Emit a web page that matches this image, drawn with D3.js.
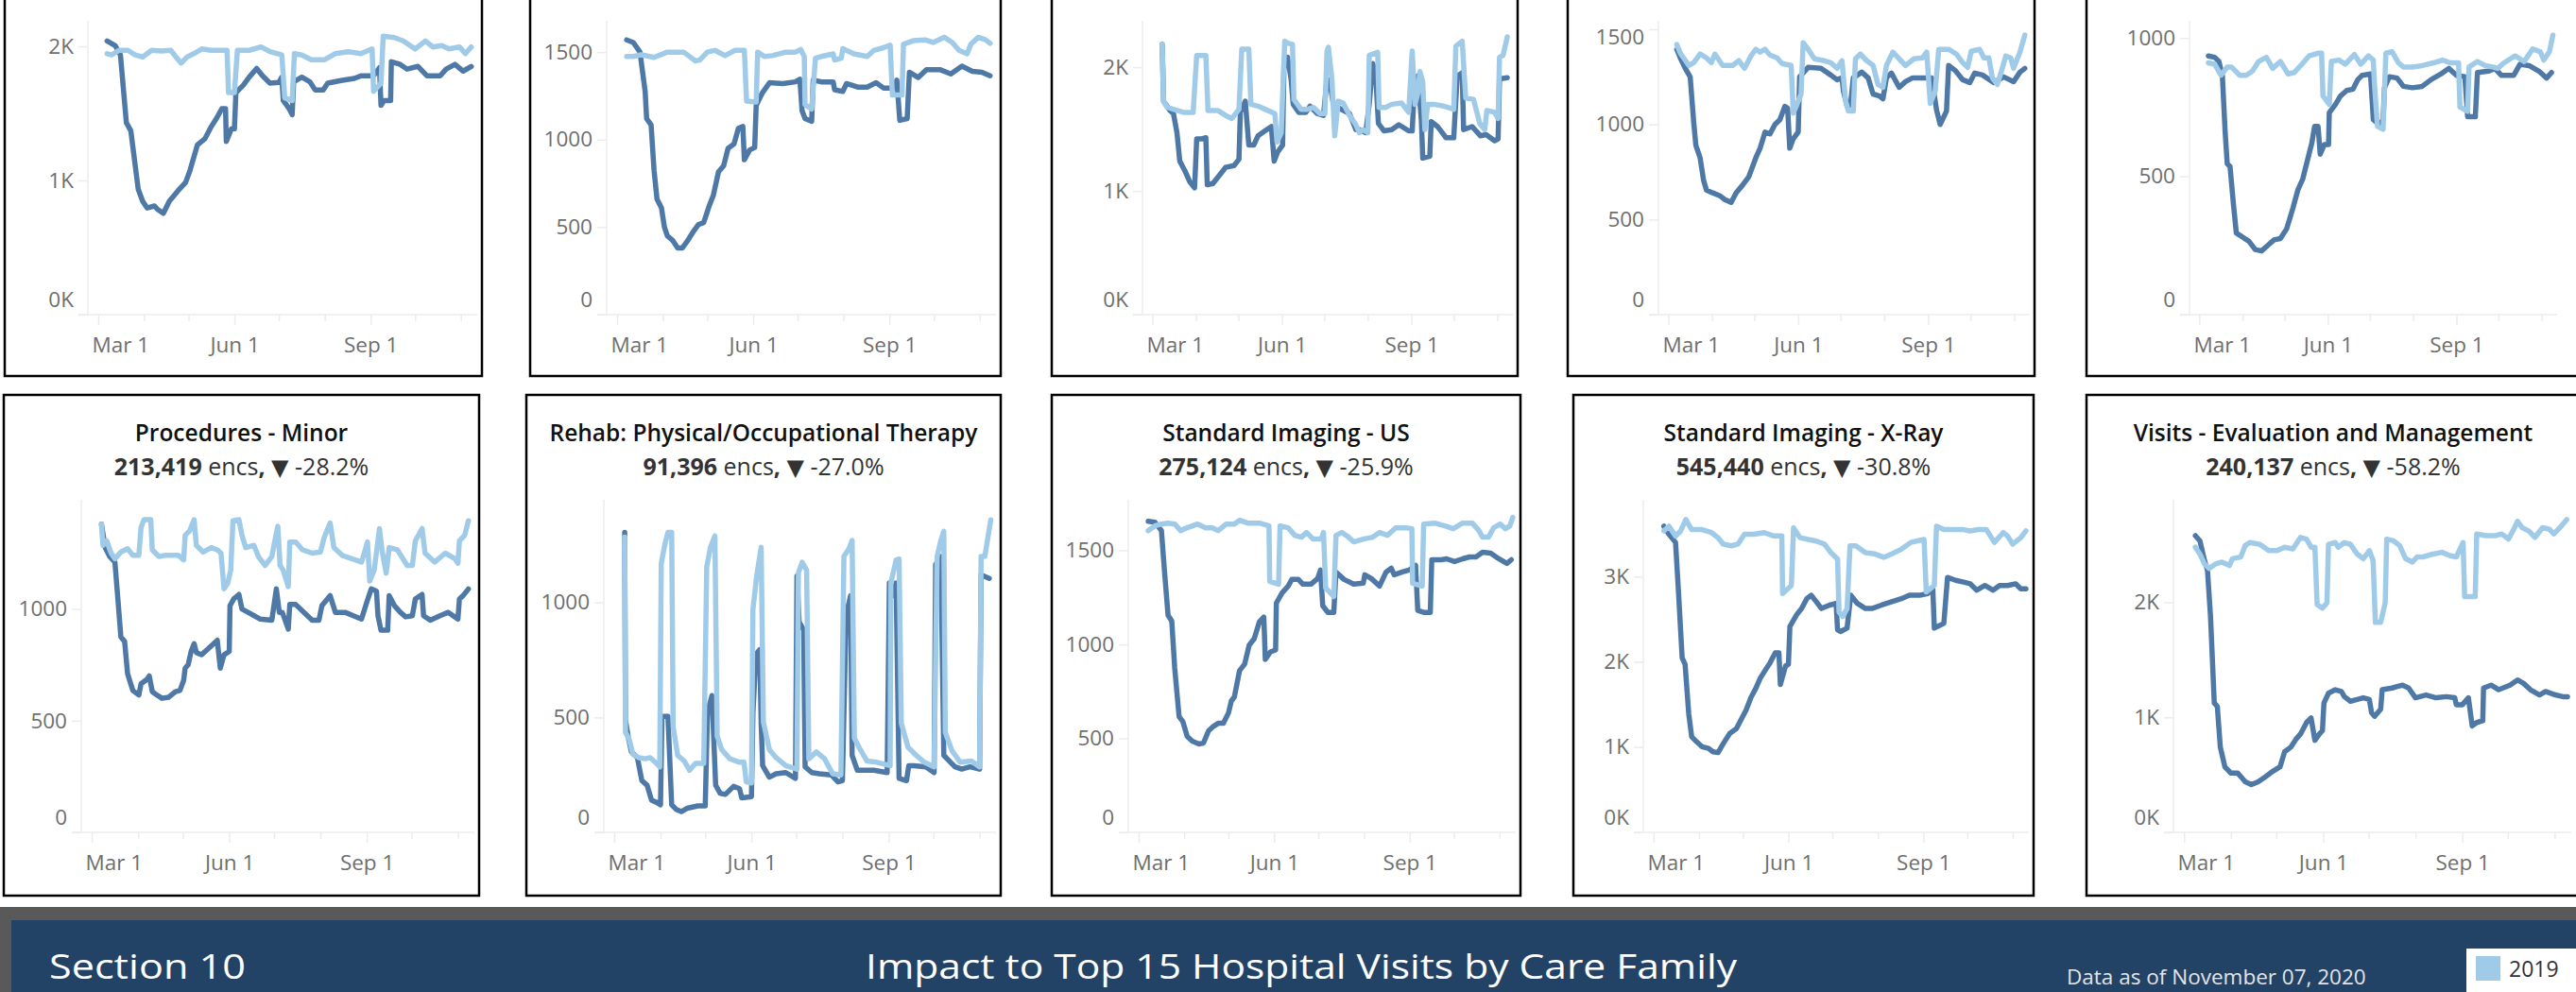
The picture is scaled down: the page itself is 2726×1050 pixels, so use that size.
<!DOCTYPE html>
<html lang="en">
<head>
    <meta charset="UTF-8">
    <title>Section 10 - Impact to Top 15 Hospital Visits by Care Family</title>
    <script src="https://cdn.jsdelivr.net/npm/d3@7"></script>
    <style>
        body { margin: 0; background: #fff; overflow: hidden; }
        text { font-family: "Open Sans", sans-serif; }
    </style>
</head>
<body>
<svg id="dash" width="2726" height="1050"></svg>

<script>
    /* global d3 */

    // each point is [days after Mar 1 2020, daily visits]; 2019 is aligned to the same days
    var c1_2020 = [[6,2040],[11.5,2005],[15,1935],[19,1430],[22,1370],[27,935],[30,845],[33,795],[38,810],[40,785],[44,755],[48,845],[54,925],[59,985],[62,1075],[67,1265],[72,1310],[76,1395],[80,1465],[83.5,1535],[86,1535],[86.5,1290],[90,1385],[92,1385],[93,1655],[98,1710],[102,1770],[107,1835],[111,1780],[116,1725],[122,1730],[124,1770],[125,1595],[129,1535],[131,1490],[132,1735],[137.5,1770],[143,1735],[146.5,1675],[152,1675],[155,1725],[164,1745],[173,1760],[177.5,1780],[186,1780],[190,1840],[191,1560],[193,1595],[197.5,1595],[198,1885],[204,1865],[208.5,1830],[216,1850],[222,1780],[231,1780],[235,1830],[241,1865],[246.5,1815],[252,1850]];
    var c1_2019 = [[6,1945],[9,1935],[14,1970],[20,1970],[25,1935],[30,1920],[36,1970],[42.5,1965],[49,1970],[52.5,1920],[56,1875],[60,1920],[64.5,1945],[70,1980],[76,1970],[84.5,1970],[87,1970],[88,1655],[92,1655],[94,1970],[102,1970],[110,1995],[116,1960],[124,1935],[126,1615],[131,1595],[132.5,1945],[137.5,1935],[144,1900],[153,1900],[160,1945],[169,1960],[177.5,1945],[185,1980],[186,1665],[191,1725],[192.5,2075],[200,2065],[206,2040],[214,1980],[221,2040],[226,1995],[232,2005],[237,1980],[244,1995],[248,1945],[252,1995]];

    var c2_2020 = [[6.5,1570],[11,1555],[15.5,1500],[19,1275],[20,1120],[23,1085],[25,825],[27,660],[30,610],[32,500],[34,450],[37.5,425],[41,380],[44,380],[47.5,420],[52,480],[55,515],[58.5,525],[62,615],[65,680],[68.5,815],[72,850],[75,950],[79,975],[82,1065],[85,1075],[86,885],[89.5,940],[93,955],[94,1195],[98,1265],[103,1325],[112,1320],[120.5,1330],[123.5,1345],[125,1165],[127,1120],[131.5,1105],[132.5,1340],[138,1330],[146,1330],[147,1285],[152.5,1275],[155,1320],[162.5,1300],[169,1300],[175,1325],[180,1295],[187,1295],[189,1340],[191,1110],[196,1120],[197.5,1385],[203.5,1355],[209,1400],[218,1400],[225.5,1375],[233,1420],[240,1390],[246.5,1385],[252,1365]];
    var c2_2019 = [[6.5,1475],[11,1475],[16.5,1485],[25,1470],[34,1500],[45,1500],[53,1450],[56,1455],[61,1500],[66,1510],[73,1480],[79.5,1510],[86,1510],[87.5,1220],[94,1215],[95,1500],[99.5,1475],[105,1480],[114,1500],[120.5,1500],[124,1515],[126.5,1475],[127,1200],[131.5,1175],[134,1465],[138,1475],[146,1490],[147,1455],[151.5,1465],[152.5,1520],[160,1490],[169,1475],[173.5,1510],[180,1525],[184.5,1540],[186,1255],[192.5,1255],[193.5,1545],[200,1565],[208,1570],[213.5,1555],[221,1585],[226.5,1555],[231,1510],[236.5,1490],[239,1545],[244,1585],[249,1570],[252,1550]];

    var c3_2020 = [[7,2185],[8,1725],[12.5,1650],[15,1625],[17.5,1470],[19.5,1240],[23,1165],[26.5,1075],[30,1025],[31.5,1420],[34.5,1420],[38,1430],[39,1050],[43,1060],[47.5,1125],[52,1190],[58,1205],[61.5,1255],[62.5,1635],[66,1725],[68.5,1370],[72,1370],[75,1445],[80,1485],[84.5,1520],[86.5,1240],[89,1315],[92.5,1370],[93.5,2055],[96,2080],[98.5,1905],[100,1700],[104,1635],[109,1635],[112,1685],[117,1625],[121.5,1610],[124,1905],[126,1880],[128.5,1700],[134,1660],[140,1625],[144.5,1495],[147,1495],[151.5,1470],[154,1700],[156.5,2030],[158.5,1955],[160.5,1545],[164.5,1485],[170,1495],[175,1535],[182,1485],[184.5,1485],[186,1825],[188.5,1930],[191,1570],[192,1265],[197,1280],[198,1560],[202.5,1520],[208.5,1430],[214,1430],[216.5,1930],[220,1955],[221,1495],[227,1520],[233,1445],[237,1455],[243,1405],[245.5,1420],[246.5,1905],[252,1915]];
    var c3_2019 = [[7,2185],[8,1725],[10.5,1675],[15,1660],[22,1635],[29,1635],[31.5,2095],[38,2095],[39.5,1650],[46.5,1650],[52,1610],[56.5,1585],[61.5,1660],[63.5,2145],[68.5,2145],[70,1700],[75,1685],[80,1660],[87,1625],[88.5,1395],[91.5,1470],[94,2210],[96,2195],[99.5,2185],[100.5,1740],[105.5,1660],[110,1660],[114.5,1675],[119,1625],[122.5,1625],[124,2130],[125,2160],[127.5,1905],[129.5,1445],[132,1725],[135.5,1710],[140,1610],[144.5,1535],[147,1470],[149.5,1495],[153,1470],[154,2095],[160,2120],[161,1675],[165.5,1675],[170,1700],[177,1710],[182,1635],[184.5,2130],[186.5,1700],[188.5,1790],[190,1965],[192,1880],[193.5,1495],[195.5,1700],[200,1700],[207,1685],[214,1660],[215.5,2170],[220,2210],[222.5,1750],[228,1740],[232.5,1545],[236,1495],[237.5,1650],[243,1635],[245.5,1585],[246.5,2080],[249,2095],[252,2245]];

    var c4_2020 = [[6,1395],[8.5,1350],[12,1295],[15.5,1250],[18,1010],[19.5,890],[22.5,825],[25,705],[27,655],[31.5,640],[36.5,625],[40,605],[44.5,590],[48,640],[52.5,680],[57,725],[62,825],[65,875],[68.5,960],[72,950],[75.5,1000],[79,1025],[82.5,1095],[84.5,1085],[86,875],[88.5,925],[92,960],[93,1250],[99,1300],[108,1295],[115,1260],[119.5,1235],[123,1245],[124,1175],[126.5,1100],[129,1100],[131,1245],[137,1275],[141.5,1245],[145,1160],[149.5,1150],[152,1135],[154.5,1245],[158,1270],[163.5,1195],[168,1225],[173,1245],[180,1245],[186.5,1245],[190,1075],[192.5,1000],[197,1070],[198.5,1310],[203,1285],[208.5,1235],[213.5,1220],[217,1270],[222.5,1260],[230.5,1220],[237.5,1250],[244.5,1225],[249,1275],[252.5,1295]];
    var c4_2019 = [[6,1420],[8.5,1375],[14.5,1310],[18,1325],[22.5,1370],[27,1350],[30.5,1325],[33,1370],[38.5,1310],[45.5,1310],[50,1335],[54,1295],[58.5,1360],[62,1395],[65,1380],[68.5,1395],[72,1365],[77,1350],[80.5,1320],[87,1310],[88.5,1060],[90.5,1095],[94,1160],[95.5,1430],[99,1395],[103.5,1345],[110.5,1335],[115,1325],[119.5,1295],[123,1335],[125.5,1125],[127.5,1070],[131,1070],[132.5,1345],[136,1370],[140.5,1335],[145,1310],[148.5,1210],[152,1195],[154.5,1310],[159,1380],[163.5,1345],[168,1310],[174,1345],[180,1350],[183,1380],[185.5,1110],[189,1175],[191.5,1395],[198.5,1395],[204,1370],[208.5,1325],[212,1300],[214.5,1385],[220.5,1395],[223.5,1350],[227,1350],[229.5,1245],[233,1210],[236.5,1295],[239,1360],[242.5,1350],[244.5,1295],[249,1380],[252.5,1470]];

    var c5_2020 = [[6.5,935],[11,930],[14,915],[16.5,865],[18.5,660],[20,545],[22,535],[24.5,395],[26.5,295],[31,280],[35.5,265],[40,235],[44.5,230],[49,250],[53.5,270],[58,275],[62.5,310],[67,385],[70.5,450],[74,490],[77.5,560],[80.5,620],[82.5,680],[85,680],[86.5,580],[89.5,615],[92.5,615],[93,730],[97.5,760],[101,790],[105.5,810],[110,815],[113.5,850],[116.5,865],[122.5,870],[124.5,705],[128,690],[131.5,700],[132.5,820],[136,860],[141.5,855],[146,825],[152.5,820],[159.5,825],[166,850],[173,870],[178.5,890],[184,865],[190,860],[192,715],[197.5,715],[199,875],[207,880],[211.5,890],[216,865],[225,865],[229.5,905],[236,900],[243,880],[248.5,855],[252,875]];
    var c5_2019 = [[6.5,910],[11,905],[15.5,865],[20,895],[23,895],[29,865],[33.5,865],[38,880],[42.5,915],[48,930],[52.5,890],[58,915],[63.5,870],[68,875],[72.5,900],[78.5,935],[85,945],[87.5,945],[88.5,790],[93,760],[94.5,915],[100,920],[104.5,905],[111,940],[115.5,905],[121,935],[124.5,920],[125.5,820],[127.5,680],[131.5,670],[133.5,945],[138,950],[142.5,910],[146,895],[152.5,895],[159.5,900],[167.5,910],[174,920],[179.5,910],[185.5,910],[186.5,750],[192,735],[193,895],[199,915],[204.5,900],[210,895],[213.5,890],[218,910],[226,935],[232.5,915],[238.5,960],[244,950],[246.5,920],[250.5,950],[253,1010]];

    // Procedures - Minor
    var c6_2020 = [[6.5,1380],[9,1275],[12,1235],[15.5,1210],[17.5,1045],[19.5,875],[22,855],[24,710],[27.5,635],[31.5,615],[33,665],[37,685],[38.5,700],[40.5,630],[42.5,620],[47,600],[51.5,605],[56,630],[59,635],[61.5,680],[62.5,735],[64.5,750],[66.5,810],[68.5,845],[70,805],[73.5,795],[77.5,820],[84,860],[86,735],[88.5,795],[92,810],[92.5,1015],[95,1045],[98.5,1065],[100.5,1000],[106,980],[112.5,955],[120.5,950],[123.5,1090],[125.5,985],[127.5,985],[131.5,910],[132.5,1020],[136.5,1020],[142,985],[147.5,950],[152,950],[154,1015],[159.5,1060],[163,985],[169.5,985],[175,970],[180.5,955],[184,1030],[187,1090],[190.5,1080],[191.5,970],[193.5,905],[198,905],[199,1060],[202.5,1015],[206.5,985],[210,965],[214.5,970],[216.5,1045],[221,1065],[222,970],[226.5,950],[233,970],[238.5,985],[245,955],[246,1045],[248.5,1060],[252,1090]];
    var c6_2019 = [[6.5,1380],[7.5,1285],[10,1305],[13,1250],[15.5,1225],[19.5,1255],[24,1270],[27.5,1240],[31.5,1240],[33,1365],[35,1400],[39.5,1400],[40.5,1265],[45,1235],[49,1240],[58,1240],[61.5,1220],[62.5,1330],[65.5,1350],[68.5,1400],[70,1285],[74.5,1255],[80,1275],[84,1265],[86.5,1250],[88.5,1090],[91,1115],[93,1175],[94.5,1395],[98.5,1400],[100.5,1330],[103,1275],[108.5,1285],[111.5,1235],[116,1195],[120.5,1235],[122.5,1305],[124.5,1370],[126,1195],[128,1175],[131.5,1100],[132.5,1300],[136.5,1300],[141,1265],[147.5,1250],[153,1255],[155.5,1320],[159.5,1385],[162,1275],[167.5,1240],[174,1225],[180.5,1210],[184.5,1300],[186,1125],[189,1175],[192.5,1360],[194.5,1250],[197,1160],[199,1275],[204.5,1265],[211,1195],[214.5,1195],[216.5,1305],[221,1360],[223,1250],[229.5,1210],[236.5,1250],[243,1225],[245,1205],[246,1305],[249.5,1330],[252,1395]];

    // Rehab: Physical/Occupational Therapy
    var c7_2020 = [[7,1305],[7.5,490],[9.5,410],[11.5,350],[15.5,325],[18.5,225],[22,205],[25,140],[28.5,130],[31,120],[32,505],[36,505],[38.5,120],[41.5,100],[45,90],[49,105],[56,115],[61,115],[62.5,520],[65.5,595],[68,205],[71,170],[74.5,165],[80,200],[84,190],[85.5,150],[92,155],[93,520],[95,775],[97.5,795],[98.5,475],[99.5,290],[104,240],[108.5,255],[115,260],[121.5,235],[122.5,1115],[124,915],[127,880],[128,285],[132.5,260],[137.5,255],[145.5,250],[150,220],[153,225],[155.5,945],[158.5,1030],[159.5,335],[163,270],[174,270],[183,260],[184.5,1085],[187,1030],[189,1085],[191,235],[196,225],[197.5,290],[201,290],[209,285],[214.5,260],[215.5,1165],[219,1200],[221,335],[225.5,305],[228.5,285],[233,275],[238.5,285],[245,275],[246,1120],[251.5,1105]];
    var c7_2019 = [[7,1285],[7.5,435],[10,405],[12.5,340],[16.5,325],[21,320],[24,325],[27.5,305],[30.5,285],[31.5,1170],[34,1255],[36,1305],[38.5,1305],[39.5,460],[42.5,335],[47,310],[50.5,270],[54.5,300],[60,300],[62,1155],[64.5,1240],[67.5,1290],[69,420],[72,360],[77.5,320],[84,305],[87,305],[88.5,220],[92,215],[93,970],[95.5,1115],[98.5,1240],[100,480],[104,360],[108.5,325],[115,290],[122.5,275],[123.5,1130],[126,1175],[129,1140],[130.5,320],[135.5,350],[141,320],[146.5,255],[152,250],[154,1200],[157.5,1235],[159.5,1270],[161,410],[165,360],[169.5,310],[176,305],[185,290],[185.5,1085],[189,1185],[191,1190],[192.5,475],[197,370],[202.5,335],[208,305],[214.5,285],[216.5,1200],[219,1270],[221,1310],[222,435],[226.5,355],[232,305],[239.5,310],[245,285],[246,1200],[248.5,1200],[252.5,1360]];

    // Standard Imaging - US
    var c8_2020 = [[6.5,1655],[11,1650],[15.5,1605],[17.5,1395],[20,1155],[22.5,1125],[24.5,875],[27.5,615],[30,590],[33,510],[36.5,485],[41,470],[44,475],[47.5,540],[51,565],[54,580],[57.5,580],[61,635],[63,700],[65,720],[68.5,860],[72,895],[75,995],[78.5,1030],[82,1120],[85,1145],[86,920],[89.5,960],[93,970],[93.5,1220],[97.5,1275],[101.5,1310],[104,1345],[108.5,1345],[111.5,1320],[117,1320],[121.5,1350],[123.5,1395],[125,1205],[128.5,1170],[132.5,1170],[134,1385],[139.5,1345],[146,1320],[152.5,1325],[153.5,1370],[158,1350],[163.5,1310],[168,1385],[171.5,1405],[173.5,1370],[179,1385],[183.5,1395],[188,1420],[189.5,1180],[193.5,1170],[198,1170],[199,1450],[205.5,1450],[209,1455],[214.5,1440],[220,1455],[224.5,1465],[229,1465],[233.5,1490],[239,1485],[244.5,1455],[250,1430],[253,1450]];
    var c8_2019 = [[6.5,1605],[11,1630],[15.5,1640],[20,1645],[24.5,1640],[28.5,1605],[33,1620],[40,1640],[45.5,1620],[50,1620],[54,1605],[59.5,1640],[65,1640],[68.5,1660],[74,1645],[82,1645],[88.5,1630],[89,1335],[95,1320],[96,1630],[101.5,1620],[106,1580],[110.5,1570],[114,1595],[118.5,1560],[124,1560],[125.5,1595],[127,1300],[132.5,1255],[134,1580],[138,1595],[142.5,1570],[146,1545],[152.5,1560],[159,1570],[163.5,1595],[169,1580],[174.5,1620],[181.5,1620],[185.5,1615],[186,1325],[192.5,1310],[193.5,1640],[201,1645],[208,1630],[213.5,1615],[220,1645],[226.5,1645],[231,1605],[233.5,1570],[237.5,1570],[241,1620],[245.5,1640],[249,1615],[252,1630],[254,1675]];

    // Standard Imaging - X-Ray
    var c9_2020 = [[7,3590],[10.5,3495],[15,3400],[17,2820],[19.5,2045],[21.5,1970],[24,1390],[26,1120],[29.5,1060],[33,1005],[37.5,985],[40.5,945],[44,935],[47.5,1040],[52,1160],[56.5,1215],[59.5,1315],[63,1430],[66.5,1585],[69.5,1680],[73,1815],[76.5,1910],[79.5,1990],[83,2105],[85.5,2105],[86.5,1735],[90,1950],[92,1970],[93,2415],[97.5,2550],[101,2625],[104.5,2740],[107.5,2780],[111,2705],[114.5,2625],[120,2665],[124.5,2685],[125.5,2375],[127.5,2355],[132,2395],[134.5,2780],[139,2685],[144.5,2625],[149,2625],[155.5,2665],[162.5,2705],[169,2740],[174.5,2780],[181.5,2780],[187,2800],[190.5,2855],[191.5,2395],[198,2450],[200.5,2990],[206,2955],[211.5,2935],[216,2915],[220.5,2840],[226,2895],[231.5,2840],[236,2895],[241.5,2895],[247,2915],[250.5,2855],[254,2855]];
    var c9_2019 = [[7,3535],[10.5,3590],[15,3475],[18.5,3535],[22,3670],[26,3550],[33,3550],[39.5,3515],[44,3455],[47.5,3380],[53,3360],[57.5,3380],[62,3495],[68.5,3495],[75.5,3515],[82,3475],[87.5,3475],[88,2800],[94,2895],[95.5,3570],[100,3455],[105.5,3435],[111,3415],[116.5,3380],[121,3280],[125.5,3205],[126.5,2585],[129,2530],[132,2625],[134,3360],[138,3360],[144.5,3280],[151,3265],[157,3225],[162.5,3265],[169,3320],[175.5,3400],[184.5,3435],[186,2820],[191.5,2895],[193,3590],[198,3550],[205,3550],[211.5,3550],[216,3535],[221.5,3550],[227,3550],[232.5,3400],[238.5,3515],[241.5,3475],[245,3380],[250.5,3455],[254,3535]];

    // Visits - Evaluation and Management
    var c10_2020 = [[7.5,2580],[10.5,2535],[13.5,2365],[15.5,2280],[17.5,1880],[20,1125],[22,1095],[24,740],[27,570],[31,515],[35.5,515],[38.5,470],[40.5,440],[44.5,415],[49,440],[54,485],[58,525],[63.5,570],[66.5,700],[70.5,740],[74,810],[77,855],[81,955],[84,995],[86.5,800],[89.5,855],[91.5,885],[92.5,1125],[95.5,1210],[100,1240],[104,1225],[106,1180],[110,1140],[114.5,1155],[118.5,1170],[122.5,1155],[124,1040],[126,1010],[130,1070],[131,1240],[137.5,1255],[141.5,1270],[144.5,1280],[148.5,1255],[153,1170],[160,1195],[166.5,1170],[173.5,1180],[179,1170],[180,1110],[184,1110],[188,1170],[190.5,925],[193.5,955],[197.5,970],[198,1255],[203,1280],[208,1240],[215.5,1280],[220.5,1325],[224.5,1295],[229,1240],[235,1195],[239,1225],[245.5,1195],[250.5,1180],[253.5,1180]];
    var c10_2019 = [[7.5,2480],[10.5,2420],[13.5,2335],[16.5,2295],[21,2335],[25,2350],[30,2320],[32,2380],[37.5,2395],[40.5,2495],[43.5,2520],[50,2505],[56,2450],[61.5,2450],[66.5,2480],[72,2465],[77,2565],[81,2550],[84,2480],[86.5,2480],[88,1980],[91.5,1950],[94.5,1995],[95.5,2505],[100,2520],[102,2480],[106,2520],[110,2505],[114.5,2420],[118.5,2380],[122.5,2450],[125,2365],[126.5,1825],[130,1825],[133,1995],[134,2550],[138.5,2535],[142.5,2495],[146.5,2380],[151,2350],[154,2395],[158,2395],[164.5,2420],[170.5,2435],[176,2405],[180,2395],[184.5,2520],[185.5,2050],[192.5,2050],[193.5,2595],[199.5,2580],[206,2580],[210,2595],[214.5,2550],[218.5,2650],[220.5,2705],[223.5,2650],[228,2620],[232,2565],[237,2650],[241.5,2635],[244.5,2595],[248.5,2650],[253,2720]];

    var series2020 = [c1_2020, c2_2020, c3_2020, c4_2020, c5_2020, c6_2020, c7_2020, c8_2020, c9_2020, c10_2020];
    var series2019 = [c1_2019, c2_2019, c3_2019, c4_2019, c5_2019, c6_2019, c7_2019, c8_2019, c9_2019, c10_2019];

    // axis settings per chart
    var yMax = [2190, 1679, 2375, 1545, 1062, 1489, 1447, 1769, 3900, 2892];
    var yTicks = [[0,1000,2000],[0,500,1000,1500],[0,1000,2000],[0,500,1000,1500],[0,500,1000],
                  [0,500,1000],[0,500,1000],[0,500,1000,1500],[0,1000,2000,3000],[0,1000,2000]];
    var inK = [true, false, true, false, false, false, false, false, true, true];

    // titles of the bottom row (top row titles are off screen)
    var titles = ["Procedures - Minor", "Rehab: Physical/Occupational Therapy", "Standard Imaging - US",
                  "Standard Imaging - X-Ray", "Visits - Evaluation and Management"];
    var totals = ["213,419", "91,396", "275,124", "545,440", "240,137"];
    var changes = ["-28.2%", "-27.0%", "-25.9%", "-30.8%", "-58.2%"];

    var legendLabels = ["2019"];

    // layout
    var rows = [
        {boxTop: -150, boxBottom: 398, paneTop: 22, axisY: 333},
        {boxTop: 418, boxBottom: 948, paneTop: 529, axisY: 881}
    ];
    var boxX = [[5,510],[561,1059],[1113,1606],[1659,2153],[2208,2760],
                [4,507],[557,1059],[1113,1609],[1665,2152],[2208,2760]];
    var paneX = [[93,505],[642,1054],[1209,1601],[1755,2148],[2317,2706],
                 [86,502],[639,1054],[1194,1604],[1739,2147],[2300,2721]];

    var dark = "#4e79a7", light = "#a0cbe8", axisGray = "#ececec", labelGray = "#6e6e6e";

    var svg = d3.select("#dash");
    var base = new Date(2020, 2, 1);
    var xStart = new Date(2020, 1, 23), xEnd = new Date(2020, 10, 12);

    function dayDate(d) {
        return new Date(base.getTime() + d * 864e5);
    }

    var months = d3.timeMonth.range(new Date(2020, 2, 1), new Date(2020, 10, 2));
    var labelMonths = [2, 5, 8];

    function drawChart(i) {
        var row = rows[i < 5 ? 0 : 1];
        var g = svg.append("g");

        var x = d3.scaleTime().domain([xStart, xEnd]).range(paneX[i]);
        var y = d3.scaleLinear().domain([0, yMax[i]]).range([row.axisY, row.paneTop]);

        // axis lines
        g.append("line")
            .attr("x1", paneX[i][0]).attr("x2", paneX[i][0])
            .attr("y1", row.paneTop).attr("y2", row.axisY)
            .attr("stroke", axisGray).attr("stroke-width", 1.5);
        g.append("line")
            .attr("x1", paneX[i][0] - 10).attr("x2", paneX[i][1])
            .attr("y1", row.axisY).attr("y2", row.axisY)
            .attr("stroke", axisGray).attr("stroke-width", 1.5);

        // y axis
        var fmt = inK[i] ? function (d) { return (d / 1000) + "K"; } : d3.format("d");
        var ya = g.append("g")
            .attr("transform", "translate(" + paneX[i][0] + ",0)")
            .call(d3.axisLeft(y).tickValues(yTicks[i]).tickFormat(fmt).tickSize(10).tickSizeOuter(0).tickPadding(5));
        ya.select(".domain").remove();
        ya.selectAll("line").attr("stroke", axisGray).attr("stroke-width", 1.5);
        ya.selectAll("text")
            .attr("fill", labelGray).attr("font-size", 22.5)
            .attr("y", function (d) {
                var p = y(d);
                var c = Math.max(row.paneTop + 17, Math.min(row.axisY - 16, p));
                return c - p;
            });

        // x axis, monthly ticks with quarter labels
        var xa = g.append("g")
            .attr("transform", "translate(0," + row.axisY + ")")
            .call(d3.axisBottom(x).tickValues(months).tickSize(8).tickSizeOuter(0)
                .tickFormat(function (d) {
                    return labelMonths.indexOf(d.getMonth()) >= 0 ? d3.timeFormat("%b %-d")(d) : "";
                }));
        xa.select(".domain").remove();
        xa.selectAll("line").attr("stroke", axisGray).attr("stroke-width", 1.5)
            .attr("y2", function (d) { return labelMonths.indexOf(d.getMonth()) >= 0 ? 11 : 7; });
        xa.selectAll("text")
            .attr("fill", labelGray).attr("font-size", 22.5)
            .attr("y", 40).attr("dy", null)
            .each(function (d) {
                var w = this.getComputedTextLength();
                var left = x(d) - w / 2;
                if (left < paneX[i][0] + 4) {
                    d3.select(this).attr("x", paneX[i][0] + 4 - left);
                }
            });

        var line = d3.line()
            .x(function (d) { return x(dayDate(d[0])); })
            .y(function (d) { return y(d[1]); });

        g.append("path")
            .datum(series2020[i])
            .attr("d", line)
            .attr("fill", "none").attr("stroke", dark).attr("stroke-width", 5.5)
            .attr("stroke-linejoin", "round").attr("stroke-linecap", "round");
        g.append("path")
            .datum(series2019[i])
            .attr("d", line)
            .attr("fill", "none").attr("stroke", light).attr("stroke-width", 5.5)
            .attr("stroke-linejoin", "round").attr("stroke-linecap", "round");

        // panel border
        g.append("rect")
            .attr("x", boxX[i][0]).attr("y", row.boxTop)
            .attr("width", boxX[i][1] - boxX[i][0]).attr("height", row.boxBottom - row.boxTop)
            .attr("fill", "none").attr("stroke", "#000").attr("stroke-width", 2.5);

        if (i >= 5) {
            var k = i - 5, cx = (boxX[i][0] + boxX[i][1]) / 2;
            if (i === 9) cx = boxX[i][0] + 261;
            g.append("text")
                .attr("x", cx).attr("y", 467)
                .attr("text-anchor", "middle")
                .attr("font-size", 24.5).attr("font-weight", 600).attr("fill", "#111")
                .text(titles[k]);
            var sub = g.append("text")
                .attr("x", cx).attr("y", 503)
                .attr("text-anchor", "middle")
                .attr("font-size", 25).attr("fill", "#333");
            sub.append("tspan").attr("font-weight", 700).text(totals[k]);
            sub.append("tspan").text(" encs");
            sub.append("tspan").attr("font-weight", 700).text(", ");
            sub.append("tspan").attr("font-family", "DejaVu Sans").attr("font-size", 24).text("\u25BC");
            sub.append("tspan").text(" " + changes[k]);
        }
    }

    for (var i = 0; i < 10; i++) drawChart(i);

    // footer bar
    svg.append("rect").attr("x", 0).attr("y", 960).attr("width", 2726).attr("height", 90).attr("fill", "#595959");
    svg.append("rect").attr("x", 12).attr("y", 974).attr("width", 2714).attr("height", 76).attr("fill", "#234366");

    svg.append("text")
        .attr("x", 52).attr("y", 1036)
        .attr("font-size", 37).attr("fill", "#fff")
        .attr("textLength", 208).attr("lengthAdjust", "spacingAndGlyphs")
        .text("Section 10");
    svg.append("text")
        .attr("x", 916).attr("y", 1036)
        .attr("font-size", 37).attr("fill", "#fff")
        .attr("textLength", 922).attr("lengthAdjust", "spacingAndGlyphs")
        .text("Impact to Top 15 Hospital Visits by Care Family");
    svg.append("text")
        .attr("x", 2187).attr("y", 1042)
        .attr("font-size", 22.5).attr("fill", "#e4e4e4")
        .text("Data as of November 07, 2020");

    // legend
    var lg = svg.append("g").attr("transform", "translate(2610,1004)");
    lg.append("rect").attr("width", 130).attr("height", 60).attr("fill", "#fff");
    lg.selectAll(".sw").data(legendLabels).enter().append("rect")
        .attr("x", 10).attr("y", 8).attr("width", 26).attr("height", 26).attr("fill", light);
    lg.selectAll(".lb").data(legendLabels).enter().append("text")
        .attr("x", 45).attr("y", 30)
        .attr("font-size", 23).attr("fill", "#333")
        .text(function (d) { return d; });
</script>
</body>
</html>
